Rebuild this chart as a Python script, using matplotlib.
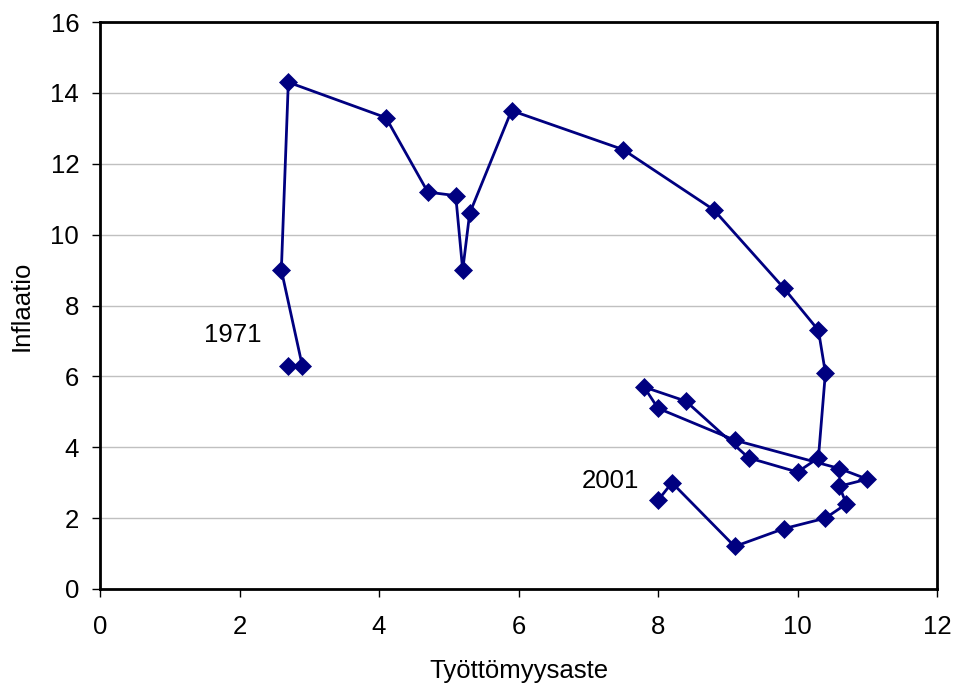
import matplotlib
matplotlib.use("Agg")
import matplotlib.pyplot as plt

plt.rcParams['font.family'] = ['Liberation Sans', 'DejaVu Sans']

years = list(range(1971, 2002))
tyottomyys = [2.7, 2.9, 2.6, 2.7, 4.1, 4.7, 5.1, 5.2, 5.3, 5.9,
              7.5, 8.8, 9.8, 10.3, 10.4, 10.3, 10.0, 9.3, 8.4, 7.8,
              8.0, 9.1, 10.6, 11.0, 10.6, 10.7, 10.4, 9.8, 9.1, 8.2,
              8.0]
inflaatio = [6.3, 6.3, 9.0, 14.3, 13.3, 11.2, 11.1, 9.0, 10.6, 13.5,
             12.4, 10.7, 8.5, 7.3, 6.1, 3.7, 3.3, 3.7, 5.3, 5.7,
             5.1, 4.2, 3.4, 3.1, 2.9, 2.4, 2.0, 1.7, 1.2, 3.0,
             2.5]
x_ticks = [0, 2, 4, 6, 8, 10, 12]
y_ticks = [0, 2, 4, 6, 8, 10, 12, 14, 16]

fs = 18.5

fig = plt.figure(figsize=(9.57, 6.91), dpi=100)
ax = fig.add_axes([100 / 957, 1 - 589 / 691, 837 / 957, 567 / 691])

ax.plot(tyottomyys, inflaatio, color="#000080", linewidth=2.0,
        marker="D", markersize=9, markeredgewidth=0.5, zorder=3)

# vuosiluvut alku- ja loppupisteeseen
ax.annotate(str(years[0]), (tyottomyys[0], inflaatio[0]), xytext=(-61, 22),
            textcoords="offset points", va="center", ha="left", fontsize=fs)
ax.annotate(str(years[-1]), (tyottomyys[-1], inflaatio[-1]), xytext=(-55, 14),
            textcoords="offset points", va="center", ha="left", fontsize=fs)

ax.set_xlim(0, 12)
ax.set_ylim(0, 16)
ax.set_xticks(x_ticks)
ax.set_yticks(y_ticks)
ax.yaxis.grid(True, color="#c0c0c0", linewidth=1.0)
ax.set_axisbelow(True)
for s in ax.spines.values():
    s.set_linewidth(2.0)
    s.set_color("black")
ax.tick_params(axis="both", direction="out", length=6, width=1, labelsize=fs)
ax.tick_params(axis="y", pad=9)
ax.tick_params(axis="x", pad=13)

ax.set_xlabel("Työttömyysaste", fontsize=fs, labelpad=14)
ax.set_ylabel("Inflaatio", fontsize=fs, labelpad=12)

plt.savefig("out.png", dpi=100)
